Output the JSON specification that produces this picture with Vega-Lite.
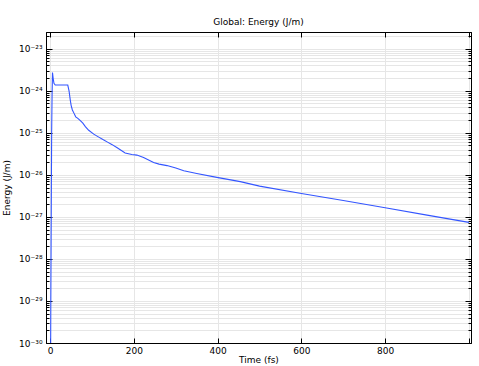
{
  "$schema": "https://vega.github.io/schema/vega-lite/v6.json",
  "width": 425,
  "height": 311,
  "autosize": {"type": "none"},
  "padding": {"left": 46, "top": 32, "right": 8, "bottom": 23},
  "background": "white",
  "config": {
    "view": {"stroke": "black", "strokeWidth": 1},
    "font": "DejaVu Sans",
    "axis": {"labelFont": "DejaVu Sans", "titleFont": "DejaVu Sans", "labelFontSize": 9, "titleFontSize": 9, "titleFontWeight": "normal", "labelColor": "#000", "titleColor": "#000", "domainColor": "#000", "tickColor": "#000", "gridColor": "#e6e6e6", "gridWidth": 1, "labelOverlap": false}
  },
  "title": {"text": "Global: Energy (J/m)", "fontSize": 9, "fontWeight": "normal", "font": "DejaVu Sans", "offset": 5, "color": "#000"},
  "data": {"values": [
    {"t": 0, "E": 1e-33},
    {"t": 1.5, "E": 1e-29},
    {"t": 2.5, "E": 1e-27},
    {"t": 3.5, "E": 1e-25},
    {"t": 4.5, "E": 8e-25},
    {"t": 5.5, "E": 2.7e-24},
    {"t": 7, "E": 2.0e-24},
    {"t": 9, "E": 1.5e-24},
    {"t": 12, "E": 1.37e-24},
    {"t": 42, "E": 1.37e-24},
    {"t": 45, "E": 1.0e-24},
    {"t": 48, "E": 6e-25},
    {"t": 50, "E": 4.5e-25},
    {"t": 53, "E": 3.5e-25},
    {"t": 57, "E": 2.9e-25},
    {"t": 61, "E": 2.4e-25},
    {"t": 66, "E": 2.2e-25},
    {"t": 72, "E": 1.95e-25},
    {"t": 78, "E": 1.7e-25},
    {"t": 84, "E": 1.4e-25},
    {"t": 92, "E": 1.15e-25},
    {"t": 104, "E": 9.3e-26},
    {"t": 115, "E": 8e-26},
    {"t": 127, "E": 6.8e-26},
    {"t": 137, "E": 6e-26},
    {"t": 147, "E": 5.3e-26},
    {"t": 160, "E": 4.4e-26},
    {"t": 179, "E": 3.3e-26},
    {"t": 195, "E": 3.05e-26},
    {"t": 207, "E": 2.95e-26},
    {"t": 223, "E": 2.6e-26},
    {"t": 247, "E": 1.96e-26},
    {"t": 260, "E": 1.8e-26},
    {"t": 279, "E": 1.66e-26},
    {"t": 300, "E": 1.45e-26},
    {"t": 319, "E": 1.25e-26},
    {"t": 350, "E": 1.08e-26},
    {"t": 398, "E": 8.7e-27},
    {"t": 454, "E": 6.9e-27},
    {"t": 500, "E": 5.4e-27},
    {"t": 600, "E": 3.6e-27},
    {"t": 700, "E": 2.45e-27},
    {"t": 800, "E": 1.65e-27},
    {"t": 900, "E": 1.1e-27},
    {"t": 1000, "E": 7.4e-28}
  ]},
  "resolve": {"axis": {"x": "independent", "y": "independent"}},
  "layer": [
    {
      "mark": {"type": "line", "color": "#3355ff", "strokeWidth": 1.1, "clip": true},
      "encoding": {
        "x": {"field": "t", "type": "quantitative",
          "scale": {"domain": [-10, 1005], "nice": false, "zero": false},
          "axis": {"orient": "bottom", "title": "Time (fs)", "values": [0, 200, 400, 600, 800, 1000],
            "labelExpr": "datum.value == 1000 ? '' : datum.label", "labelPadding": 8, "titlePadding": 0, "tickSize": -5}},
        "y": {"field": "E", "type": "quantitative",
          "scale": {"type": "log", "domain": [1e-30, 2.5e-23], "nice": false},
          "axis": {"orient": "left", "title": "Energy (J/m)", "titlePadding": 7, "labelPadding": 10,
            "tickSize": {"condition": {"test": "abs(log(datum.value)/LN10 - round(log(datum.value)/LN10)) < 1e-6", "value": -6}, "value": -3},
            "values": [1e-30,2e-30,3e-30,4e-30,5e-30,6e-30,7e-30,8e-30,9e-30,1e-29,2e-29,3e-29,4e-29,5e-29,6e-29,7e-29,8e-29,9e-29,1e-28,2e-28,3e-28,4e-28,5e-28,6e-28,7e-28,8e-28,9e-28,1e-27,2e-27,3e-27,4e-27,5e-27,6e-27,7e-27,8e-27,9e-27,1e-26,2e-26,3e-26,4e-26,5e-26,6e-26,7e-26,8e-26,9e-26,1e-25,2e-25,3e-25,4e-25,5e-25,6e-25,7e-25,8e-25,9e-25,1e-24,2e-24,3e-24,4e-24,5e-24,6e-24,7e-24,8e-24,9e-24,1e-23,2e-23],
            "labelExpr": "abs(log(datum.value)/LN10 - round(log(datum.value)/LN10)) < 1e-6 ? '10⁻' + substring('⁰¹²³⁴⁵⁶⁷⁸⁹', floor(-round(log(datum.value)/LN10)/10), floor(-round(log(datum.value)/LN10)/10)+1) + substring('⁰¹²³⁴⁵⁶⁷⁸⁹', (-round(log(datum.value)/LN10))%10, (-round(log(datum.value)/LN10))%10+1) : ''"}}
      }
    },
    {
      "mark": {"type": "line", "strokeOpacity": 0, "clip": true},
      "encoding": {
        "x": {"field": "t", "type": "quantitative",
          "scale": {"domain": [-10, 1005], "nice": false, "zero": false},
          "axis": {"orient": "top", "title": null, "labels": false, "grid": false, "values": [0, 200, 400, 600, 800, 1000], "tickSize": -5}},
        "y": {"field": "E", "type": "quantitative",
          "scale": {"type": "log", "domain": [1e-30, 2.5e-23], "nice": false},
          "axis": {"orient": "right", "title": null, "labels": false, "grid": false,
            "tickSize": {"condition": {"test": "abs(log(datum.value)/LN10 - round(log(datum.value)/LN10)) < 1e-6", "value": -6}, "value": -3},
            "values": [1e-30,2e-30,3e-30,4e-30,5e-30,6e-30,7e-30,8e-30,9e-30,1e-29,2e-29,3e-29,4e-29,5e-29,6e-29,7e-29,8e-29,9e-29,1e-28,2e-28,3e-28,4e-28,5e-28,6e-28,7e-28,8e-28,9e-28,1e-27,2e-27,3e-27,4e-27,5e-27,6e-27,7e-27,8e-27,9e-27,1e-26,2e-26,3e-26,4e-26,5e-26,6e-26,7e-26,8e-26,9e-26,1e-25,2e-25,3e-25,4e-25,5e-25,6e-25,7e-25,8e-25,9e-25,1e-24,2e-24,3e-24,4e-24,5e-24,6e-24,7e-24,8e-24,9e-24,1e-23,2e-23]}}
      }
    }
  ]
}
